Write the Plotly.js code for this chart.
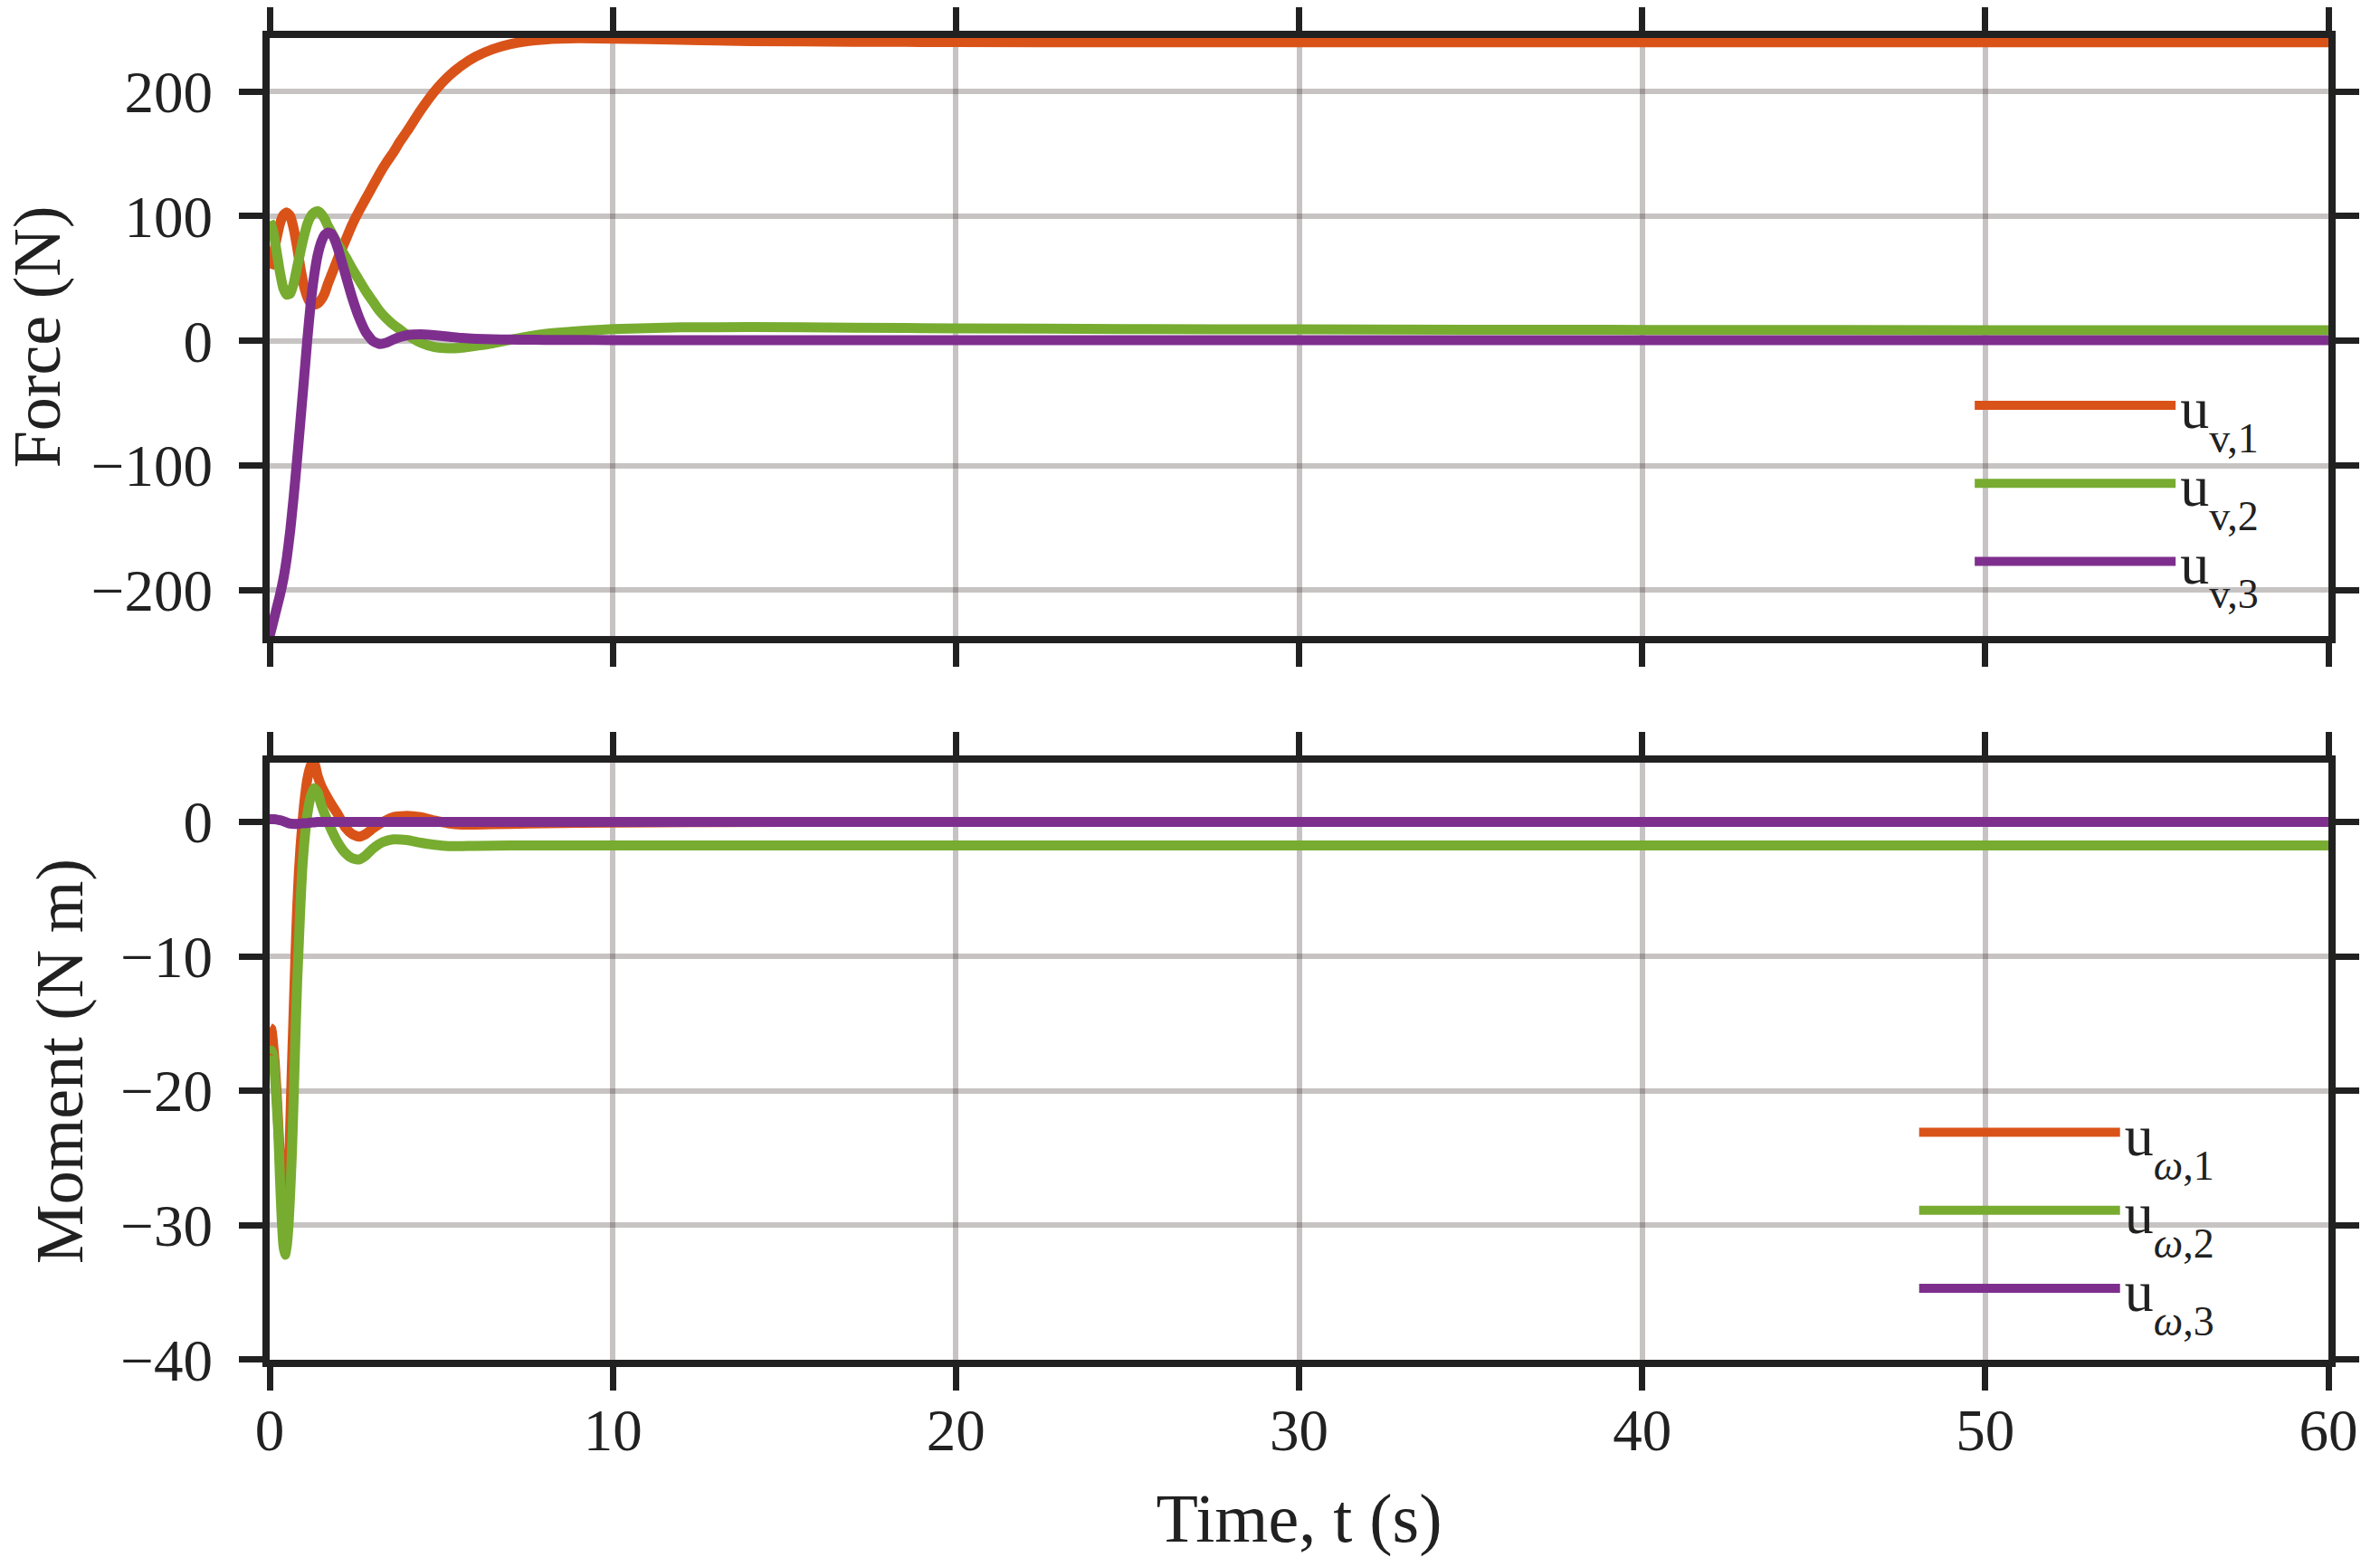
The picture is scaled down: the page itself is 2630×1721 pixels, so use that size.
<!DOCTYPE html>
<html>
<head>
<meta charset="utf-8">
<script src="https://cdn.plot.ly/plotly-3.0.1.min.js"></script>
<style>
  html, body { margin: 0; padding: 0; background: #ffffff; }
  #chart { width: 2630px; height: 1721px; }
</style>
</head>
<body>
<div id="chart"></div>
<script>
// time samples (s)
const tForce = [0, 0.1, 0.2, 0.3, 0.4, 0.5, 0.6, 0.7, 0.8, 0.9, 1.0, 1.1, 1.2, 1.3, 1.4, 1.5, 1.6, 1.7, 1.8, 1.9,
  2.0, 2.2, 2.4, 2.6, 2.8, 3.0, 3.2, 3.4, 3.6, 3.8, 4.0, 4.4, 4.8, 5.2, 5.6, 6.0, 6.5, 7.0, 7.5, 8.0,
  9, 10, 12, 14, 17, 20, 25, 30, 40, 50, 60];

const uv1 = [58, 68, 82, 94, 101, 103, 100, 90, 75, 58, 44, 35, 30, 29, 30, 33, 38, 46, 53, 60,
  67, 80, 93, 104, 114, 124, 134, 143, 151, 160, 168, 185, 200, 212, 221, 228, 234, 238, 240.5, 241.8,
  242.8, 242.5, 241.5, 240.5, 240, 239.7, 239.5, 239.5, 239.5, 239.5, 239.5];

const uv2 = [96, 88, 72, 55, 42, 37, 38, 46, 59, 72, 84, 94, 100, 103, 104, 102, 98, 92, 87, 82,
  77, 68, 58, 49, 40, 32, 24, 18, 13, 9, 5, -1.5, -5, -6, -5.5, -4, -2, 0.8, 3.4, 5.4,
  7.8, 9.5, 10.8, 11, 10.6, 10, 9.5, 9.2, 8.8, 8.6, 8.5];

const uv3 = [-236.8, -226, -215, -204, -191, -174, -152, -125, -95, -63, -31, 2, 31, 53, 69, 79, 85, 87, 86, 81,
  73, 54, 35, 19, 7, 0, -2.5, -1.5, 1, 3, 4.5, 5.2, 4.5, 3.5, 2.3, 1.6, 1.2, 1.0, 0.9, 0.8,
  0.7, 0.6, 0.5, 0.5, 0.5, 0.5, 0.5, 0.5, 0.5, 0.5, 0.5];

// time samples (s)
const tMoment = [0, 0.05, 0.1, 0.15, 0.2, 0.25, 0.3, 0.35, 0.4, 0.45, 0.5, 0.55, 0.6, 0.65, 0.7, 0.75, 0.8, 0.85, 0.9, 0.95,
  1.0, 1.1, 1.2, 1.3, 1.4, 1.5, 1.6, 1.8, 2.0, 2.2, 2.4, 2.6, 2.8, 3.0, 3.3, 3.6, 4.0, 4.4, 4.8, 5.2,
  5.6, 6.0, 7, 8, 10, 15, 20, 30, 40, 50, 60];

const uw1 = [-15.3, -15.4, -16.5, -18, -20, -22.5, -25, -27.5, -29.5, -30.5, -30, -27, -22.5, -18, -14, -10, -6.5, -3.8, -1.8, -0.2,
  1.2, 3.2, 4.2, 4.35, 3.4, 2.7, 2.2, 1.3, 0.5, -0.4, -0.9, -1.1, -0.9, -0.5, 0.0, 0.35, 0.45, 0.35, 0.1, -0.1,
  -0.2, -0.2, -0.15, -0.1, -0.05, 0, 0, 0, 0, 0, 0];

const uw2 = [-17.2, -17.0, -17.4, -18.8, -20.8, -23, -26.5, -29.5, -31.5, -32.2, -31.5, -30, -27.5, -24.5, -20.5, -16, -12, -9, -6, -3.5,
  -1.8, 0.6, 1.9, 2.5, 2.2, 1.3, 0.6, -0.6, -1.6, -2.3, -2.7, -2.8, -2.5, -2.0, -1.5, -1.3, -1.35, -1.55, -1.7, -1.8,
  -1.8, -1.78, -1.75, -1.75, -1.75, -1.75, -1.75, -1.75, -1.75, -1.75, -1.75];

const uw3 = [0.2, 0.2, 0.2, 0.2, 0.18, 0.15, 0.12, 0.1, 0.05, 0, -0.05, -0.1, -0.12, -0.14, -0.15, -0.15, -0.15, -0.14, -0.12, -0.1,
  -0.1, -0.08, -0.05, -0.03, 0, 0, 0, 0, 0, 0, 0, 0, 0, 0, 0, 0, 0, 0, 0, 0,
  0, 0, 0, 0, 0, 0, 0, 0, 0, 0, 0];

const xTicks = [0, 10, 20, 30, 40, 50, 60];
const forceTicks = [-200, -100, 0, 100, 200];
const momentTicks = [-40, -30, -20, -10, 0];

const ORANGE = '#D95319';
const GREEN = '#77AC30';
const PURPLE = '#7E2F8E';
const INK = '#212121';
const GRID = 'rgba(48,35,35,0.27)';
const FONT = "'Liberation Serif', 'Times New Roman', serif";

// legend label: big "u" with a low, fairly large subscript
function label(sub) {
    return 'u<span style="font-size:46px;baseline-shift:-27px">' + sub + '</span>';
}

function line(x, y, color, name, xa, ya, legend) {
    return {
        x: x, y: y, type: 'scatter', mode: 'lines', name: name,
        xaxis: xa, yaxis: ya, legend: legend,
        line: { color: color, width: 11, shape: 'spline', smoothing: 0.5 },
        hoverinfo: 'skip'
    };
}

// blank last row so the lowered subscript of the third entry is not clipped
function spacer(xa, ya, legend) {
    return {
        x: [null], y: [null], type: 'scatter', mode: 'lines', name: ' ',
        xaxis: xa, yaxis: ya, legend: legend,
        line: { color: 'rgba(0,0,0,0)', width: 0 }, hoverinfo: 'skip'
    };
}

const traces = [
    line(tForce, uv1, ORANGE, label('v,1'), 'x', 'y', 'legend'),
    line(tForce, uv2, GREEN, label('v,2'), 'x', 'y', 'legend'),
    line(tForce, uv3, PURPLE, label('v,3'), 'x', 'y', 'legend'),
    spacer('x', 'y', 'legend'),
    line(tMoment, uw1, ORANGE, label('<i>ω</i>,1'), 'x2', 'y2', 'legend2'),
    line(tMoment, uw2, GREEN, label('<i>ω</i>,2'), 'x2', 'y2', 'legend2'),
    line(tMoment, uw3, PURPLE, label('<i>ω</i>,3'), 'x2', 'y2', 'legend2'),
    spacer('x2', 'y2', 'legend2')
];

const axisStyle = {
    showline: true, linecolor: INK, linewidth: 8, mirror: 'ticks',
    ticks: 'outside', ticklen: 26, tickwidth: 7, tickcolor: INK,
    showgrid: true, gridcolor: GRID, gridwidth: 6,
    zeroline: false, layer: 'above traces',
    tickfont: { family: FONT, size: 65, color: INK }
};

const legendStyle = {
    font: { family: FONT, size: 64, color: INK },
    bgcolor: 'rgba(0,0,0,0)', borderwidth: 0,
    itemwidth: 222, tracegroupgap: 0,
    xanchor: 'left', yanchor: 'top'
};

const layout = {
    width: 2630, height: 1721,
    paper_bgcolor: '#ffffff', plot_bgcolor: '#ffffff',
    margin: { l: 298, r: 57, t: 42, b: 218 },
    font: { family: FONT, color: INK },
    showlegend: true,
    xaxis: Object.assign({}, axisStyle, {
        domain: [0, 1], anchor: 'y', range: [0, 60],
        tickvals: xTicks, showticklabels: false
    }),
    yaxis: Object.assign({}, axisStyle, {
        domain: [0.5476, 1], anchor: 'x', range: [-236.8, 243],
        tickvals: forceTicks, ticklabelstandoff: 16,
        title: { text: 'Force (N)', font: { family: FONT, size: 74, color: INK }, standoff: 26 }
    }),
    xaxis2: Object.assign({}, axisStyle, {
        domain: [0, 1], anchor: 'y2', range: [0, 60],
        tickvals: xTicks, ticklabelstandoff: -12,
        title: { text: 'Time, t (s)', font: { family: FONT, size: 76, color: INK }, standoff: 56 }
    }),
    yaxis2: Object.assign({}, axisStyle, {
        domain: [0, 0.4517], anchor: 'x2', range: [-40, 4.4],
        tickvals: momentTicks, ticklabelstandoff: 16,
        title: { text: 'Moment (N m)', font: { family: FONT, size: 74, color: INK }, standoff: 20 }
    }),
    legend: Object.assign({}, legendStyle, { x: 0.826, y: 0.755 }),
    legend2: Object.assign({}, legendStyle, { x: 0.799, y: 0.205 })
};

Plotly.newPlot('chart', traces, layout, { staticPlot: true, displayModeBar: false });
</script>
</body>
</html>
